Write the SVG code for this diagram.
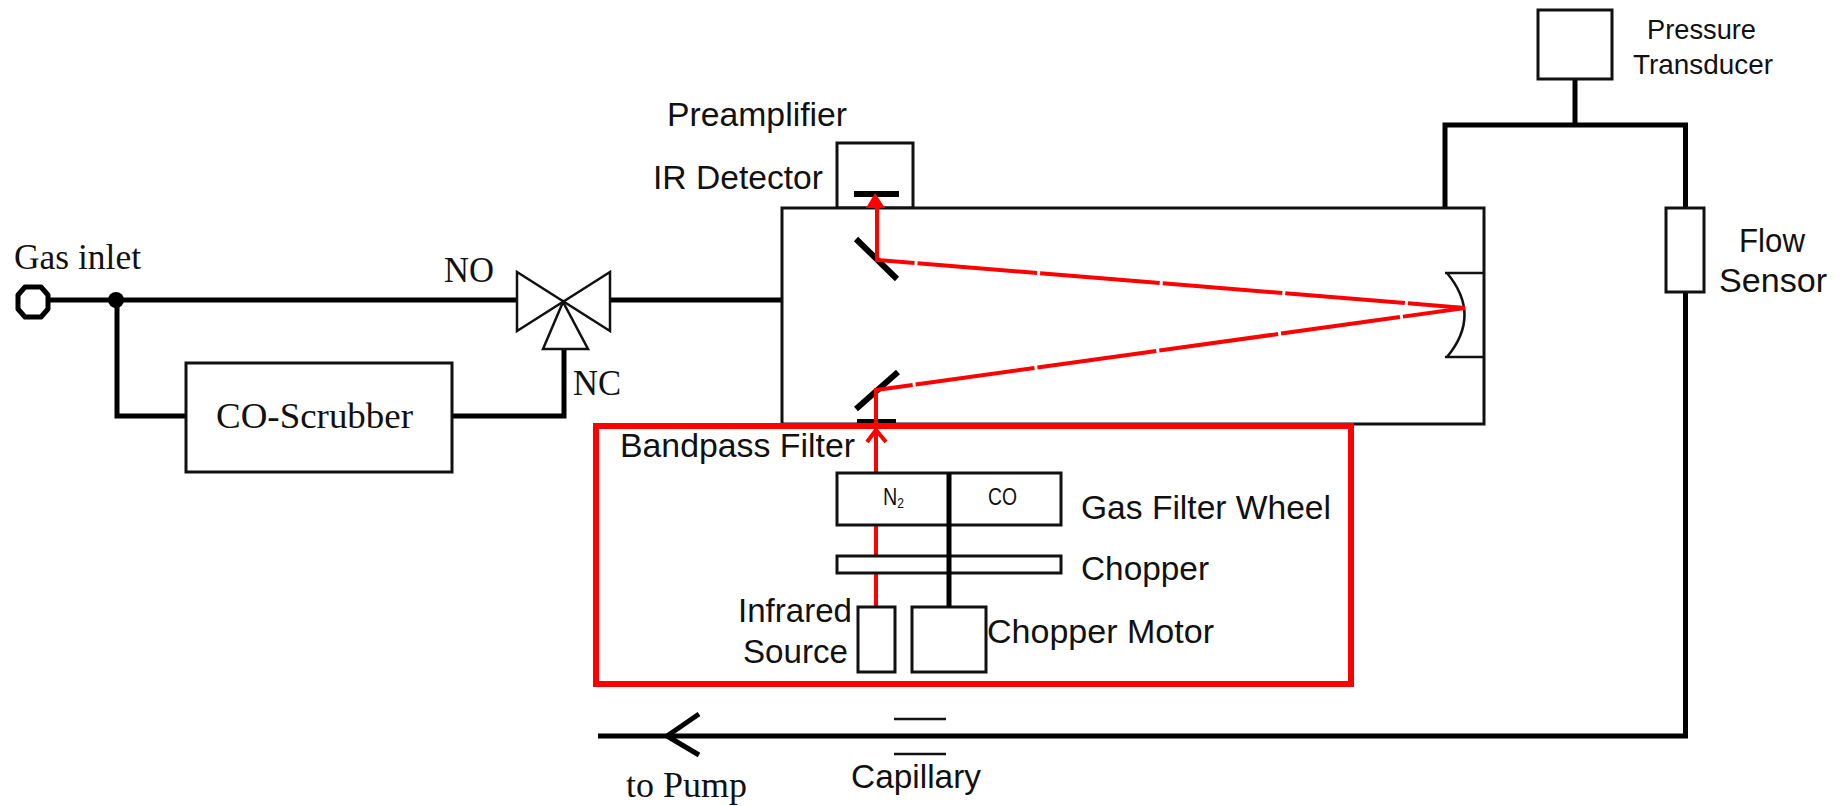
<svg xmlns="http://www.w3.org/2000/svg" width="1841" height="806" viewBox="0 0 1841 806">
<style>
.box{fill:#fff;stroke:#111;stroke-width:3}
.open{fill:none;stroke:#111;stroke-width:2.5}
.pipe{fill:none;stroke:#000;stroke-width:5}
.thick{fill:none;stroke:#000;stroke-width:6}
.ray{fill:none;stroke:#f00;stroke-width:4}
text{fill:#111}
.sans{font-family:"Liberation Sans",Arial,sans-serif;font-size:34px}
.small{font-family:"Liberation Sans",Arial,sans-serif;font-size:28px}
.tiny{font-family:"Liberation Sans",Arial,sans-serif;font-size:23px}
.serif{font-family:"Liberation Serif","Times New Roman",serif;font-size:35px}
</style>
<rect width="1841" height="806" fill="#fff"/>
<g id="connectors">
<path class="pipe" d="M50 300H517M117 300V416H186M452 416H564V349M610 300H782"/>
<path class="pipe" d="M1445 208V125H1685.5V208M1575 79V125M1685.5 292V736H598"/>
<path class="pipe" d="M699 714L667 736L699 755"/>
<path class="open" d="M894 719H946M894 754H946" stroke-width="3"/>
</g>
<g id="gas-inlet">
<polygon points="25,287 41,287 48,295 48,309 41,317 25,317 18,309 18,295" fill="#fff" stroke="#000" stroke-width="5" stroke-linejoin="round"/>
<circle cx="116" cy="300" r="8" fill="#000"/>
<text class="serif" x="14" y="269" textLength="127" lengthAdjust="spacingAndGlyphs">Gas inlet</text>
</g>
<g id="valve">
<path class="open" d="M517 272V331L610 272V331Z"/>
<path class="open" d="M563 302L543 349H588Z"/>
<text class="serif" x="444" y="282" textLength="50" lengthAdjust="spacingAndGlyphs">NO</text>
<text class="serif" x="573" y="395" textLength="48" lengthAdjust="spacingAndGlyphs">NC</text>
</g>
<g id="co-scrubber">
<rect class="box" x="186" y="363" width="266" height="109"/>
<text class="serif" x="216" y="428" textLength="197" lengthAdjust="spacingAndGlyphs">CO-Scrubber</text>
</g>
<g id="preamplifier">
<rect class="box" x="837" y="143" width="76" height="65"/>
<text class="sans" x="667" y="126" textLength="180" lengthAdjust="spacingAndGlyphs">Preamplifier</text>
<text class="sans" x="653" y="189" textLength="170" lengthAdjust="spacingAndGlyphs">IR Detector</text>
<path class="thick" d="M854 194H899"/>
</g>
<g id="chamber">
<rect class="box" x="782" y="208" width="702" height="216"/>
<path class="thick" d="M856 239L897 279M856 409L898 372"/>
<path class="thick" d="M857 422H896" stroke-width="4"/>
<path d="M1445 273H1484M1445 357H1484M1447 273Q1482 315 1447 357" fill="none" stroke="#111" stroke-width="2.5"/>
</g>
<g id="beam">
<path class="ray" d="M876 473V390L1465 308L877 260V200" stroke-dasharray="120 3"/>
<path class="ray" d="M867 442L876 430L886 442"/>
<polygon points="875,193 866,208 885,208" fill="#f00"/>
<path class="ray" d="M876 525V556M876 573V607" stroke-width="5"/>
</g>
<g id="pressure-transducer">
<rect class="box" x="1538" y="10" width="74" height="69"/>
<text class="small" x="1647" y="39" textLength="109" lengthAdjust="spacingAndGlyphs">Pressure</text>
<text class="small" x="1633" y="74" textLength="140" lengthAdjust="spacingAndGlyphs">Transducer</text>
</g>
<g id="flow-sensor">
<rect class="box" x="1666" y="208" width="38" height="84"/>
<text class="sans" x="1739" y="252" textLength="66" lengthAdjust="spacingAndGlyphs">Flow</text>
<text class="sans" x="1719" y="292" textLength="108" lengthAdjust="spacingAndGlyphs">Sensor</text>
</g>
<g id="source-assembly">
<rect x="596" y="426" width="755" height="258" fill="none" stroke="#f00" stroke-width="6"/>
<text class="sans" x="620" y="457" textLength="235" lengthAdjust="spacingAndGlyphs">Bandpass Filter</text>
</g>
<g id="gas-filter-wheel">
<rect class="box" x="837" y="473" width="224" height="52"/>
<text class="tiny" x="883" y="505" textLength="21" lengthAdjust="spacingAndGlyphs">N<tspan font-size="14" dy="3">2</tspan></text>
<text class="tiny" x="988" y="505" textLength="29" lengthAdjust="spacingAndGlyphs">CO</text>
<text class="sans" x="1081" y="519" textLength="250" lengthAdjust="spacingAndGlyphs">Gas Filter Wheel</text>
</g>
<g id="chopper">
<rect class="box" x="837" y="556" width="224" height="17"/>
<text class="sans" x="1081" y="580" textLength="128" lengthAdjust="spacingAndGlyphs">Chopper</text>
</g>
<g id="infrared-source">
<rect class="box" x="858" y="607" width="37" height="65"/>
<text class="sans" x="738" y="622" textLength="114" lengthAdjust="spacingAndGlyphs">Infrared</text>
<text class="sans" x="743" y="663" textLength="105" lengthAdjust="spacingAndGlyphs">Source</text>
</g>
<g id="chopper-motor">
<rect class="box" x="912" y="607" width="74" height="65"/>
<path class="pipe" d="M949 473V607"/>
<text class="sans" x="987" y="643" textLength="227" lengthAdjust="spacingAndGlyphs">Chopper Motor</text>
</g>
<g id="labels">
<text class="serif" x="626" y="797" textLength="121" lengthAdjust="spacingAndGlyphs">to Pump</text>
<text class="sans" x="851" y="788" textLength="130" lengthAdjust="spacingAndGlyphs">Capillary</text>
</g>
</svg>
